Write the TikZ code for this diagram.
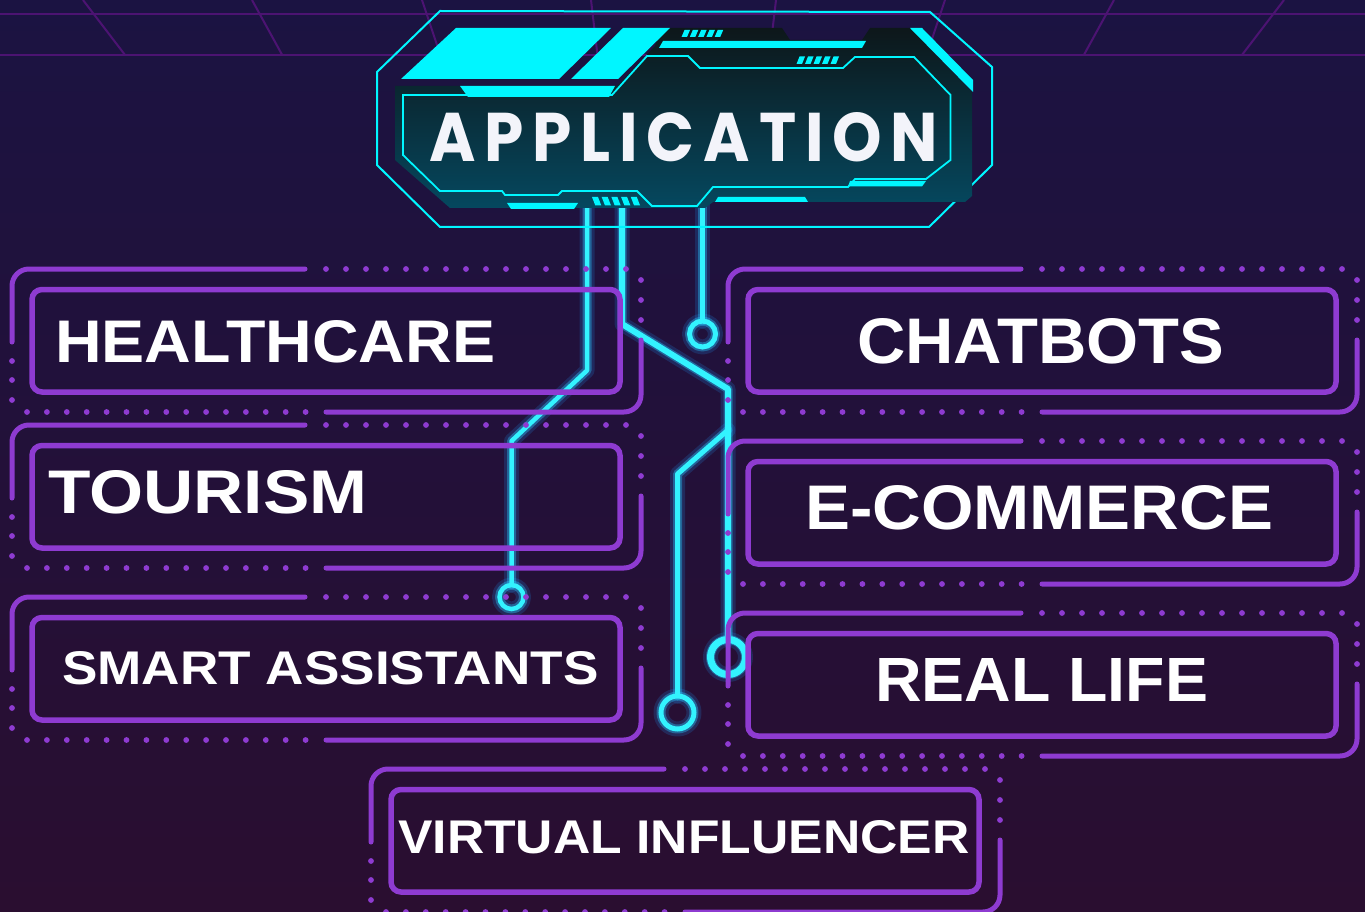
\documentclass[tikz,border=0pt]{standalone}
\usepackage{fontspec}
\usepackage{graphicx}
\usetikzlibrary{calc}
\newfontfamily\catfont{Liberation Sans}
\newfontfamily\titlefont{Poppins}[LetterSpace=14]

\definecolor{bgtop}{HTML}{1B1342}
\definecolor{bgbot}{HTML}{2A0E30}
\definecolor{gridc}{HTML}{4C1372}
\definecolor{purp}{HTML}{8E3BD1}
\definecolor{neon}{HTML}{33F3FF}
\definecolor{neonglow}{HTML}{1E9BFF}
\definecolor{hcyan}{HTML}{00F6FF}
\definecolor{platetop}{HTML}{0D171A}
\definecolor{platebot}{HTML}{05485F}
\definecolor{titlec}{HTML}{F3F4FA}

\tikzset{
  pline/.style={draw=purp, line width=5, line cap=round},
  catbox/.style={rectangle, draw=purp, line width=5.5, rounded corners=10,
    minimum width=588pt, minimum height=102.5pt, inner sep=0pt},
  lbl/.style={font=\catfont\bfseries, text=white, inner sep=0pt, anchor=base west},
  glowwide/.style={draw=neonglow, line width=15, opacity=0.18, line cap=round, line join=round},
  glowmid/.style={draw=neonglow!50!neon, line width=9, opacity=0.38, line cap=round, line join=round},
  neoncore/.style={draw=neon, line width=4.5, line cap=round, line join=round},
  pad/.style={circle, draw=neon, inner sep=0pt},
  hline/.style={draw=hcyan, line width=1.8, line join=miter},
}

% one category frame: outer bracket lines with dotted runs, inner rounded box
\newcommand\catframe[3]{%
  \begin{scope}[shift={(#1,#2)}]
    \draw[pline, rounded corners=17] (305,0) -- (12,0) -- (12,73);
    \draw[pline, rounded corners=17] (326,143) -- (641,143) -- (641,71);
    \foreach \yy in {92,111,131} \fill[purp] (12,\yy) circle (2.9);
    \foreach \yy in {11,31,51} \fill[purp] (641,\yy) circle (2.9);
    \foreach \k in {0,...,14} \fill[purp] (27+19.9*\k,143) circle (2.9);
    \foreach \k in {0,...,15} \fill[purp] (326+20*\k,0) circle (2.9);
    \node[catbox] (#3) at (326,71.75) {};
  \end{scope}}

\begin{document}
\begin{tikzpicture}[x=1pt, y=-1pt]
\useasboundingbox (0,0) rectangle (1365,912);
\clip (0,0) rectangle (1365,912);

% background
\shade[top color=bgtop, bottom color=bgbot] (0,0) rectangle (1365,912);

% perspective grid strip along the top
\draw[gridc, line width=2] (0,14) -- (1365,14) (0,55) -- (1365,55);
\foreach \gx in {83,252,422,591,776,945,1114,1284}
  \draw[gridc, line width=2] (\gx,0) -- ({\gx+(683.5-\gx)*0.07},55);

% circuit traces
\coordinate (cA) at (511.5,597);
\coordinate (cB) at (728,657);
\coordinate (cC) at (702.5,334);
\coordinate (cD) at (677.5,712.5);
\coordinate (a0) at (587,200);
\coordinate (a1) at (587,370.5);
\coordinate (a2) at (511.5,441);
\coordinate (b0) at (622,200);
\coordinate (b1) at (622,324);
\coordinate (b2) at (728,389);
\coordinate (c0) at (702.5,200);
\coordinate (d0) at (728,430);
\coordinate (d1) at (677.5,474);

\foreach \sty in {glowwide,glowmid}{
  \draw[\sty] (a0) -- (a1) -- (a2) -- ($(cA)+(0,-12)$);
  \draw[\sty] (b0) -- (b1) -- (b2) -- ($(cB)+(0,-17.5)$);
  \draw[\sty] (c0) -- ($(cC)+(0,-13)$);
  \draw[\sty] (d0) -- (d1) -- ($(cD)+(0,-16.5)$);
  \draw[\sty] (cA) circle (12);
  \draw[\sty] (cB) circle (17.5);
  \draw[\sty] (cC) circle (13);
  \draw[\sty] (cD) circle (16.5);
}
\node[pad, minimum size=24pt, line width=4.5] (padA) at (cA) {};
\node[pad, minimum size=35pt, line width=7] (padB) at (cB) {};
\node[pad, minimum size=26pt, line width=5] (padC) at (cC) {};
\node[pad, minimum size=33pt, line width=5] (padD) at (cD) {};
\draw[neoncore] (a0) -- (a1) -- (a2) -- (padA.north);
\draw[neoncore, line width=6] (b0) -- (b1) -- (b2) -- (padB.north);
\draw[neoncore, line width=5] (c0) -- (padC.north);
\draw[neoncore, line width=5] (d0) -- (d1) -- (padD.north);

% category frames
\catframe{0}{269}{boxHealth}
\catframe{0}{425}{boxTour}
\catframe{0}{597}{boxSmart}
\catframe{716}{269}{boxChat}
\catframe{716}{441}{boxShop}
\catframe{716}{613}{boxReal}
\catframe{359}{769}{boxVirt}

% category labels
\node[lbl] (tHealth) at (55,362) {\resizebox{440pt}{42pt}{HEALTHCARE}};
\node[lbl] (tTour)   at (48,513) {\resizebox{319pt}{43pt}{TOURISM}};
\node[lbl] (tSmart)  at (62,684) {\resizebox{536pt}{33pt}{SMART ASSISTANTS}};
\node[lbl] (tChat)   at (857,363) {\resizebox{367pt}{45pt}{CHATBOTS}};
\node[lbl] (tShop)   at (805,529) {\resizebox{468pt}{44pt}{E-COMMERCE}};
\node[lbl] (tReal)   at (875,701) {\resizebox{333pt}{43pt}{REAL LIFE}};
\node[lbl] (tVirt)   at (398,853) {\resizebox{571pt}{33pt}{VIRTUAL INFLUENCER}};

% title plate
\draw[hline, line width=2] (440,11) -- (930,12) -- (992,67) -- (992,165) -- (929,227)
  -- (440,227) -- (377,165) -- (377,72) -- cycle;
\shade[top color=platetop, bottom color=platebot]
  (395,86) -- (617,86) -- (655,46) -- (662,28) -- (782,28) -- (790,40) -- (862,40)
  -- (870,28) -- (910,28) -- (972,92) -- (972,196) -- (965,202) -- (713,202)
  -- (705,208) -- (450,208) -- (395,160) -- cycle;
\draw[hline] (403,95) -- (612,95) -- (647,56) -- (688,56) -- (700,68) -- (843,68)
  -- (855,57) -- (914,57) -- (950.5,95) -- (950.5,160) -- (926,179) -- (855,179)
  -- (848,187) -- (713,187) -- (697,206) -- (652,206) -- (637,191) -- (562,191)
  -- (558,195) -- (505,195) -- (502,191) -- (440,191) -- (403,155) -- cycle;
\fill[hcyan] (456,28) -- (611,28) -- (559,79) -- (401,79) -- cycle;
\fill[hcyan] (623,28) -- (670,28) -- (618,79) -- (571,79) -- cycle;
\fill[hcyan] (460,86) -- (615,86) -- (609,97) -- (468,97) -- cycle;
\fill[hcyan] (663,41) -- (866,41) -- (862,48) -- (659,48) -- cycle;
\fill[hcyan] (910,28) -- (922,28) -- (973,80) -- (973,92) -- cycle;
\fill[hcyan] (850,181) -- (926,181) -- (922,186.5) -- (848,186.5) -- cycle;
\fill[hcyan] (507,203) -- (578,203) -- (574,209) -- (511,209) -- cycle;
\fill[hcyan] (718,197) -- (805,197) -- (808,202) -- (715,202) -- cycle;
\foreach \k in {0,...,4}{
  \fill[hcyan] ({684.5+8.3*\k},30) -- ({690+8.3*\k},30) -- ({687+8.3*\k},37) -- ({681.5+8.3*\k},37) -- cycle;
  \fill[hcyan] ({799.5+8.5*\k},56.5) -- ({805+8.5*\k},56.5) -- ({802+8.5*\k},64) -- ({796.5+8.5*\k},64) -- cycle;
  \fill[hcyan] ({592+9.7*\k},197) -- ({598+9.7*\k},197) -- ({601.3+9.7*\k},205.5) -- ({595.3+9.7*\k},205.5) -- cycle;
}
\node[inner sep=0pt, anchor=base west, text=titlec] (title) at (429,162)
  {\resizebox{500pt}{49pt}{\titlefont\bfseries APPLICATION\kern-0.14em}};
\end{tikzpicture}
\end{document}
